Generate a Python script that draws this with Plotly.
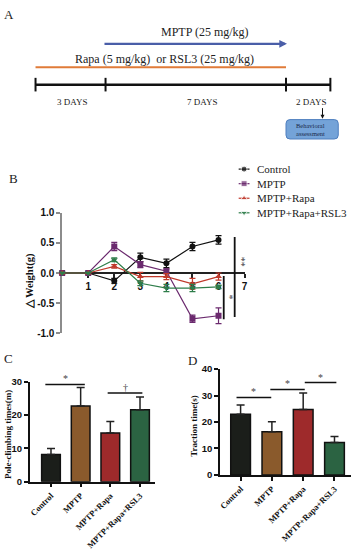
import plotly.graph_objects as go

# ---------------- data ----------------
# Panel B: body weight change
days = [0, 1, 2, 3, 4, 5, 6]
control_w = [0, 0, -0.13, 0.26, 0.16, 0.44, 0.55]
control_w_err = [0, 0, 0.04, 0.07, 0.07, 0.07, 0.07]
mptp_w = [0, 0, 0.44, 0.14, 0.03, -0.76, -0.71]
mptp_w_err = [0, 0, 0.07, 0.05, 0.04, 0.06, 0.13]
rapa_w = [0, 0, 0.11, -0.06, -0.06, -0.18, -0.06]
rapa_w_err = [0, 0, 0.03, 0.07, 0.05, 0.09, 0.06]
rsl3_w = [0, 0, 0.22, -0.17, -0.25, -0.25, -0.23]
rsl3_w_err = [0, 0, 0.03, 0.04, 0.06, 0.06, 0.03]
b_xticks = [1, 2, 3, 4, 5, 6, 7]
b_yticks = [-1.0, -0.5, 0.0, 0.5, 1.0]

# Panels C, D: behaviour
groups = ["Control", "MPTP", "MPTP+Rapa", "MPTP+Rapa+RSL3"]
pole_mean = [8.2, 22.7, 14.6, 21.6]
pole_err = [1.8, 5.6, 3.5, 3.8]
traction_mean = [22.9, 16.3, 24.7, 12.3]
traction_err = [3.5, 3.8, 6.3, 2.2]
c_yticks = [0, 10, 20, 30]
d_yticks = [0, 10, 20, 30, 40]

# significance brackets: (x_start, x_end, y, label)
c_brackets = [(-0.19, 1.14, 29.2, "*"), (1.04, 2.04, 31.3, "*"), (1.91, 3.08, 26.6, "†")]
d_brackets = [(-0.13, 0.98, 29.3, "*"), (0.95, 2.05, 32.3, "*"), (2.05, 3.06, 34.9, "*")]

# ---------------- styles ----------------
W, H = 360, 550
SERIF = "Liberation Serif"
SANS = "Liberation Sans"
series_colors = ["#111111", "#6b2a6e", "#c0392b", "#2e7d4a"]
bar_colors = ["#1b1e1a", "#8a5a2c", "#9e2a2b", "#2b6342"]


def px(x):
    return x / W


def py(y):
    return 1 - y / H


def label(x, y, text, size, color="#222", family=SERIF, bold=False, angle=0, align="center",
          xanchor="center"):
    f = dict(family=family, size=size, color=color)
    if bold:
        f["weight"] = "bold"
    return dict(xref="paper", yref="paper", x=px(x), y=py(y), text=text, textangle=angle,
                showarrow=False, xanchor=xanchor, yanchor="middle", font=f, align=align)


fig = go.Figure()

# ---------------- Panel B traces ----------------
names = ["Control", "MPTP", "MPTP+Rapa", "MPTP+Rapa+RSL3"]
symbols = ["circle", "square", "triangle-up", "triangle-down"]
ys = [control_w, mptp_w, rapa_w, rsl3_w]
errs = [control_w_err, mptp_w_err, rapa_w_err, rsl3_w_err]
for name, sym, y, e, col in zip(names, symbols, ys, errs, series_colors):
    fig.add_trace(go.Scatter(
        x=days, y=y, name=name, mode="lines+markers",
        line=dict(color=col, width=1.2),
        marker=dict(symbol=sym, size=6, color=col),
        error_y=dict(type="data", array=e, color=col, thickness=1.2, width=3),
        xaxis="x", yaxis="y", cliponaxis=False, showlegend=False,
    ))

# legend glyphs (drawn on a hidden pixel-space overlay axis)
legend_x0, legend_x1, legend_top, legend_step = 240, 251, 168, 15
for i, (name, sym, col) in enumerate(zip(names, symbols, series_colors)):
    ry = legend_top + i * legend_step
    fig.add_trace(go.Scatter(
        x=[legend_x0, (legend_x0 + legend_x1) / 2, legend_x1], y=[ry, ry, ry],
        mode="lines+markers", line=dict(color=col, width=1.2),
        marker=dict(symbol=sym, size=[0, 6, 0], color=col),
        xaxis="x4", yaxis="y4", showlegend=False, hoverinfo="skip", cliponaxis=False,
    ))

# ---------------- Panels C, D bars ----------------
fig.add_trace(go.Bar(
    x=list(range(4)), y=pole_mean, width=0.63,
    marker=dict(color=bar_colors, line=dict(color="#111", width=1.5)),
    error_y=dict(type="data", array=pole_err, arrayminus=[0] * 4, symmetric=False,
                 color="#222", thickness=1.5, width=4),
    xaxis="x2", yaxis="y2", showlegend=False,
))
fig.add_trace(go.Bar(
    x=list(range(4)), y=traction_mean, width=0.63,
    marker=dict(color=bar_colors, line=dict(color="#111", width=1.5)),
    error_y=dict(type="data", array=traction_err, arrayminus=[0] * 4, symmetric=False,
                 color="#222", thickness=1.5, width=4),
    xaxis="x3", yaxis="y3", showlegend=False,
))

tickfont_sans = dict(family=SANS, size=9.5, color="#111", weight="bold")
catfont = dict(family=SERIF, size=8.5, color="#111", weight="bold")

layout = dict(
    width=W, height=H, margin=dict(l=0, r=0, t=0, b=0),
    paper_bgcolor="white", plot_bgcolor="rgba(0,0,0,0)",
    showlegend=False,
    # Panel B axes
    xaxis=dict(domain=[px(61), px(246)], range=[0, 7], anchor="free", position=0.5,
               showline=True, linecolor="#222", linewidth=1.5, showgrid=False, zeroline=False,
               tickvals=b_xticks, ticks="outside", ticklen=4, tickwidth=1.5, tickcolor="#222",
               tickfont=dict(tickfont_sans, size=10), layer="below traces"),
    yaxis=dict(domain=[py(337), py(213)], range=[-1, 1], anchor="x",
               showline=True, linecolor="#8c8c8c", linewidth=1.5, showgrid=False, zeroline=False,
               tickvals=b_yticks, ticktext=["%.1f" % v for v in b_yticks],
               ticks="outside", ticklen=4, tickwidth=1.5, tickcolor="#8c8c8c",
               tickfont=dict(tickfont_sans, size=10), layer="below traces"),
    # Panel C axes
    xaxis2=dict(domain=[px(28), px(155)], range=[-0.72, 3.5], anchor="y2",
                showline=True, linecolor="#111", linewidth=1.5, showgrid=False, zeroline=False,
                tickvals=list(range(4)), ticktext=groups, tickangle=-45,
                ticks="outside", ticklen=4, tickwidth=1.5, tickcolor="#111", tickfont=catfont),
    yaxis2=dict(domain=[py(490), py(387)], range=[0, 30], anchor="x2",
                showline=True, linecolor="#111", linewidth=1.5, showgrid=False, zeroline=False,
                tickvals=c_yticks, ticks="outside", ticklen=4, tickwidth=1.5, tickcolor="#111",
                tickfont=tickfont_sans),
    # Panel D axes
    xaxis3=dict(domain=[px(221), px(354)], range=[-0.66, 3.53], anchor="y3",
                showline=True, linecolor="#111", linewidth=1.5, showgrid=False, zeroline=False,
                tickvals=list(range(4)), ticktext=groups, tickangle=-45,
                ticks="outside", ticklen=4, tickwidth=1.5, tickcolor="#111", tickfont=catfont),
    yaxis3=dict(domain=[py(483), py(374)], range=[0, 40], anchor="x3",
                showline=True, linecolor="#111", linewidth=1.5, showgrid=False, zeroline=False,
                tickvals=d_yticks, ticks="outside", ticklen=4, tickwidth=1.5, tickcolor="#111",
                tickfont=tickfont_sans),
    # hidden pixel-space overlay (legend glyphs)
    xaxis4=dict(domain=[0, 1], range=[0, W], anchor="y4", visible=False, fixedrange=True),
    yaxis4=dict(domain=[0, 1], range=[H, 0], anchor="x4", visible=False, fixedrange=True),
)
fig.update_layout(**layout)

shapes = []
annotations = []

# ---------------- Panel A diagram ----------------
shapes.append(dict(type="line", xref="paper", yref="paper", x0=px(34), x1=px(288),
                   y0=py(63), y1=py(63), line=dict(color="#e07b39", width=2)))
annotations.append(dict(xref="paper", yref="paper", x=px(289), y=py(39), ax=-184, ay=0,
                        text="", showarrow=True, arrowhead=2, arrowsize=0.7,
                        arrowwidth=2.2, arrowcolor="#4a5ea8"))
shapes.append(dict(type="line", xref="paper", yref="paper", x0=px(34), x1=px(333),
                   y0=py(81), y1=py(81), line=dict(color="#111", width=2.5)))
for tx in [34, 105, 288, 333]:
    shapes.append(dict(type="line", xref="paper", yref="paper", x0=px(tx), x1=px(tx),
                       y0=py(74), y1=py(88), line=dict(color="#111", width=2)))
annotations += [
    label(206, 27, "MPTP (25 mg/kg)", 12),
    label(165, 55, "Rapa (5 mg/kg)  or RSL3 (25 mg/kg)", 12),
    label(71, 99, "3 DAYS", 9),
    label(203, 99, "7 DAYS", 9),
    label(313, 99, "2 DAYS", 9),
    dict(xref="paper", yref="paper", x=px(325), y=py(116), ax=0, ay=-12, text="",
         showarrow=True, arrowhead=2, arrowsize=0.8, arrowwidth=1, arrowcolor="#111"),
]
x0, x1, y0, y1, r = 288, 341, 117, 137, 4
path = (f"M {px(x0 + r)},{py(y0)} L {px(x1 - r)},{py(y0)} Q {px(x1)},{py(y0)} {px(x1)},{py(y0 + r)} "
        f"L {px(x1)},{py(y1 - r)} Q {px(x1)},{py(y1)} {px(x1 - r)},{py(y1)} "
        f"L {px(x0 + r)},{py(y1)} Q {px(x0)},{py(y1)} {px(x0)},{py(y1 - r)} "
        f"L {px(x0)},{py(y0 + r)} Q {px(x0)},{py(y0)} {px(x0 + r)},{py(y0)} Z")
shapes.append(dict(type="path", xref="paper", yref="paper", path=path,
                   fillcolor="#74a3d8", line=dict(color="#4f7fbf", width=1)))
annotations.append(label(313, 127, "Behavioral<br>assessment", 6.5, color="#1a2a4a", align="left"))

# ---------------- legend texts ----------------
for i, name in enumerate(names):
    annotations.append(label(257, legend_top + i * legend_step, name, 11, color="#222",
                             xanchor="left"))

# ---------------- panel letters ----------------
for letter, lx, ly in [("A", 7, 9), ("B", 12, 178), ("C", 7, 363), ("D", 193, 365)]:
    annotations.append(label(lx, ly, letter, 13))

# ---------------- axis titles ----------------
annotations += [
    label(28, 284, "△ Weight(g)", 10.5, color="#111", bold=True, angle=-90),
    label(6, 441, "Pole-climbing times(m)", 9, color="#111", bold=True, angle=-90),
    label(195, 432, "Traction time(s)", 9, color="#111", bold=True, angle=-90),
]

# ---------------- Panel B significance ----------------
shapes.append(dict(type="line", xref="x", yref="y", x0=6.62, x1=6.62, y0=0.6, y1=-0.73,
                   line=dict(color="#111", width=1.8)))
shapes.append(dict(type="line", xref="x", yref="y", x0=6.2, x1=6.2, y0=-0.05, y1=-0.77,
                   line=dict(color="#111", width=1.8)))
annotations += [
    label(243, 263, "**", 10, color="#444", angle=90),
    label(231, 300, "*", 10, color="#444", angle=90),
]

# ---------------- Panels C, D significance ----------------
for (xa, ya), brs in [(("x2", "y2"), c_brackets), (("x3", "y3"), d_brackets)]:
    for bx0, bx1, by, lab in brs:
        shapes.append(dict(type="line", xref=xa, yref=ya, x0=bx0, x1=bx1, y0=by, y1=by,
                           line=dict(color="#111", width=1.5)))
        annotations.append(dict(xref=xa, yref=ya, x=(bx0 + bx1) / 2, y=by, text=lab,
                                showarrow=False, xanchor="center", yanchor="bottom", yshift=-2,
                                font=dict(family=SERIF, size=10, color="#444")))

fig.update_layout(shapes=shapes, annotations=annotations)
fig.write_html("out.html", config={"displayModeBar": False},
               post_script="document.body.style.margin='0px';")
